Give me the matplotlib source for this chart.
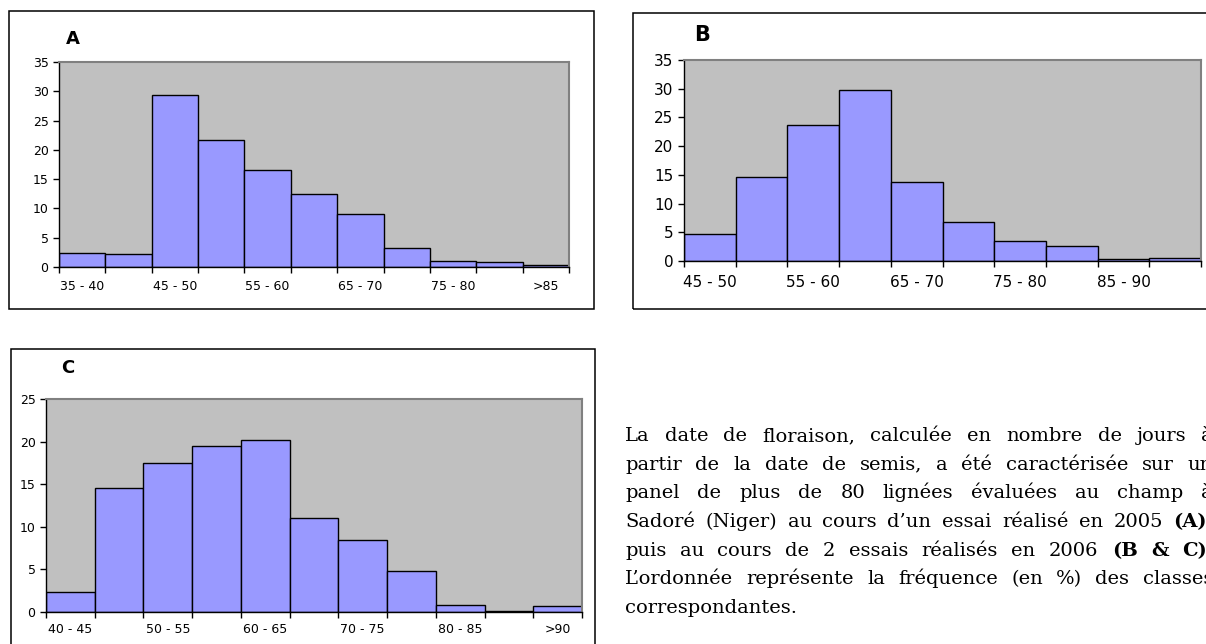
import matplotlib
matplotlib.use('Agg')
import matplotlib.pyplot as plt
import numpy as np
from matplotlib.patches import Rectangle

W, H = 1206, 644

# classes de floraison (jours) et fréquences (%)
cats_a = ['35 - 40', '40 - 45', '45 - 50', '50 - 55', '55 - 60', '60 - 65',
          '65 - 70', '70 - 75', '75 - 80', '80 - 85', '>85']
freq_a = [2.4, 2.2, 29.4, 21.6, 16.6, 12.5, 9.0, 3.2, 1.1, 0.8, 0.3]

cats_b = ['45 - 50', '50 - 55', '55 - 60', '60 - 65', '65 - 70', '70 - 75',
          '75 - 80', '80 - 85', '85 - 90', '>90']
freq_b = [4.7, 14.6, 23.6, 29.8, 13.8, 6.8, 3.4, 2.6, 0.3, 0.6]

cats_c = ['40 - 45', '45 - 50', '50 - 55', '55 - 60', '60 - 65', '65 - 70',
          '70 - 75', '75 - 80', '80 - 85', '85 - 90', '>90']
freq_c = [2.3, 14.6, 17.5, 19.5, 20.2, 11.0, 8.4, 4.8, 0.8, 0.1, 0.7]

# texte de la légende (**...** = gras)
caption = [
    'La date de floraison, calculée en nombre de jours à',
    'partir de la date de semis, a été caractérisée sur un',
    'panel de plus de 80 lignées évaluées au champ à',
    'Sadoré (Niger) au cours d’un essai réalisé en 2005 **(A)**,',
    'puis au cours de 2 essais réalisés en 2006 **(B** **&** **C)**.',
    'L’ordonnée représente la fréquence (en %) des classes',
    'correspondantes.',
]

plt.rcParams['font.family'] = ['DejaVu Sans']
fig = plt.figure(figsize=(W / 100, H / 100), dpi=100)


def px_axes(l, t, r, b):
    return fig.add_axes([l / W, 1 - b / H, (r - l) / W, (b - t) / H])


def frame(l, t, r, b):
    fig.add_artist(Rectangle((l / W, 1 - b / H), (r - l) / W, (b - t) / H,
                             transform=fig.transFigure, fill=False,
                             ec='black', lw=1.1))


def hist_panel(ax, cats, vals, ymax, fs, pad):
    x = np.arange(len(cats))
    ax.bar(x, vals, width=1.0, color='#9999FF', edgecolor='black', linewidth=1.0)
    ax.set_facecolor('#C0C0C0')
    ax.set_xlim(-0.5, len(cats) - 0.5)
    ax.set_ylim(0, ymax)
    ax.set_yticks(np.arange(0, ymax + 1, 5))
    ax.set_xticks(np.arange(len(cats) + 1) - 0.5)
    ax.set_xticklabels([])
    ax.set_xticks(x[::2], minor=True)
    ax.set_xticklabels(cats[::2], minor=True)
    ax.tick_params(which='major', length=4, width=1, direction='out',
                   labelsize=fs, color='black')
    ax.tick_params(axis='x', which='minor', length=0, labelsize=fs, pad=pad)
    for s in ['top', 'right']:
        ax.spines[s].set_color('#808080')
        ax.spines[s].set_linewidth(1.5)
    for s in ['left', 'bottom']:
        ax.spines[s].set_color('black')
        ax.spines[s].set_linewidth(1.0)


# panneau A
frame(9, 11, 594, 309)
ax_a = px_axes(59, 62, 569, 267)
hist_panel(ax_a, cats_a, freq_a, 35, 9, 9)
fig.text(73 / W, 1 - 39 / H, 'A', ha='center', va='center', weight='bold', size=13)

# panneau B
frame(633, 13, 1212, 309)
ax_b = px_axes(684, 60, 1201, 261)
hist_panel(ax_b, cats_b, freq_b, 35, 11, 10)
fig.text(702 / W, 1 - 35 / H, 'B', ha='center', va='center', weight='bold', size=15)

# panneau C
frame(11, 349, 595, 650)
ax_c = px_axes(46, 399, 582, 612)
hist_panel(ax_c, cats_c, freq_c, 25, 9, 8)
fig.text(68 / W, 1 - 368 / H, 'C', ha='center', va='center', weight='bold', size=13)

# texte justifié
renderer = fig.canvas.get_renderer()
left, right = 625, 1213
y0, dy = 441, 28.7
tsize = 14


def segs(word):
    out = []
    for i, part in enumerate(word.split('**')):
        if part:
            out.append((part, i % 2 == 1))
    return out


sp = fig.text(0, 0, 'a a', family='DejaVu Serif', size=tsize)
sp2 = fig.text(0, 0, 'aa', family='DejaVu Serif', size=tsize)
space_w = sp.get_window_extent(renderer).width - sp2.get_window_extent(renderer).width
sp.remove()
sp2.remove()

for i, line in enumerate(caption):
    y = 1 - (y0 + i * dy) / H
    words = []
    for w in line.split(' '):
        parts = []
        for txt, bold in segs(w):
            t = fig.text(0, y, txt, family='DejaVu Serif', size=tsize,
                         weight='bold' if bold else 'normal', va='baseline')
            parts.append((t, t.get_window_extent(renderer).width))
        words.append(parts)
    widths = [sum(p[1] for p in parts) for parts in words]
    if i < len(caption) - 1 and len(words) > 1:
        gap = max((right - left - sum(widths)) / (len(words) - 1), space_w * 0.8)
    else:
        gap = space_w
    x = left
    for parts, wd in zip(words, widths):
        xx = x
        for t, tw in parts:
            t.set_x(xx / W)
            xx += tw
        x += wd + gap

fig.savefig('out.png', dpi=100)
